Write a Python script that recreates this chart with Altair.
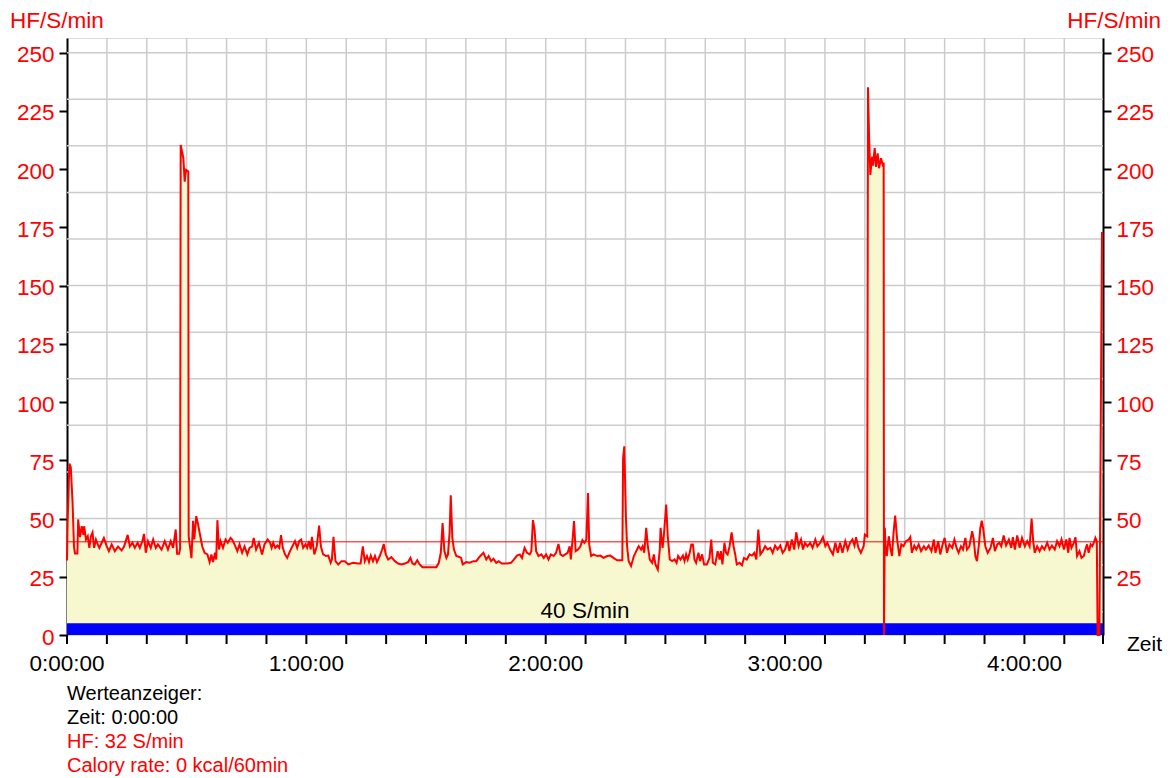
import altair as alt
import pandas as pd

# ---- data (minutes since start, HF in S/min) ----
minutes = [
    0.0, 0.15, 0.6, 0.95, 1.4, 1.75, 2.0, 2.6, 2.8, 3.25, 3.7, 4.1, 4.3, 4.75, 5.2, 5.6, 6.0, 6.4, 6.8,
    7.25, 7.7, 8.1, 8.7, 9.25, 9.9, 10.5, 11.2, 12.0, 12.8, 13.7, 14.3, 15.2, 15.75, 16.4, 17.0, 17.7,
    18.25, 18.9, 19.3, 19.75, 20.3, 21.0, 21.6, 22.25, 22.8, 23.7, 24.5, 25.3, 26.0, 26.6, 27.25, 27.6,
    28.1, 28.35, 28.5, 29.17, 29.5, 29.84, 30.4, 30.5, 31.2, 31.6, 31.9, 32.4, 32.8, 33.25, 33.9, 34.5,
    35.2, 35.75, 36.2, 36.6, 37.1, 37.4, 37.7, 38.1, 38.5, 39.1, 39.75, 40.3, 41.0, 41.4, 42.0, 42.7,
    43.25, 43.9, 44.5, 45.2, 45.75, 46.4, 46.8, 47.4, 48.1, 48.9, 49.5, 50.3, 50.9, 51.3, 51.7, 52.2,
    52.7, 53.2, 53.65, 54.1, 54.65, 55.2, 55.9, 56.6, 57.15, 57.7, 58.2, 58.7, 59.2, 59.8, 60.2, 60.65,
    61.1, 61.4, 62.0, 62.6, 63.2, 63.65, 64.2, 64.9, 65.5, 66.1, 66.4, 66.8, 67.3, 68.0, 68.8, 69.65,
    70.5, 71.7, 73.0, 73.6, 74.15, 74.65, 75.2, 75.7, 76.15, 76.7, 77.2, 77.7, 78.4, 79.0, 79.4, 79.9,
    80.5, 81.3, 82.2, 83.0, 83.8, 84.7, 85.5, 86.1, 86.6, 87.15, 87.8, 88.4, 89.1, 90.1, 91.3, 92.6,
    93.2, 93.7, 94.15, 94.6, 95.1, 95.5, 95.9, 96.2, 96.6, 97.0, 97.6, 98.2, 98.8, 99.2, 100.1, 100.9,
    101.9, 102.6, 103.2, 103.6, 104.4, 105.1, 105.7, 106.3, 106.9, 107.6, 108.2, 109.0, 110.3, 111.3,
    112.0, 112.8, 113.5, 114.05, 114.7, 115.3, 116.0, 116.4, 116.8, 117.2, 117.6, 118.2, 118.9, 119.5,
    120.1, 120.7, 121.3, 122.0, 122.6, 123.2, 123.7, 124.3, 124.9, 125.5, 126.0, 126.3, 126.8, 127.1,
    127.5, 128.1, 128.7, 129.2, 129.7, 130.2, 130.6, 130.9, 131.4, 132.0, 132.9, 133.7, 134.5, 135.4,
    136.2, 137.0, 137.9, 138.7, 139.2, 139.4, 139.7, 140.1, 140.4, 140.8, 141.4, 142.1, 142.7, 143.3,
    143.9, 144.3, 144.7, 145.2, 145.6, 146.1, 146.7, 147.1, 147.5, 148.1, 148.6, 148.8, 149.3, 149.6,
    149.8, 150.2, 150.6, 151.1, 151.7, 152.3, 152.8, 153.2, 153.8, 154.4, 154.8, 155.2, 155.6, 156.1,
    156.5, 156.9, 157.3, 157.7, 158.3, 158.7, 159.2, 159.7, 160.4, 161.05, 161.5, 161.9, 162.5, 163.1,
    163.6, 163.9, 164.3, 164.8, 165.2, 165.6, 166.1, 166.6, 167.1, 167.5, 167.9, 168.6, 169.2, 169.7,
    170.4, 171.1, 171.7, 172.3, 172.8, 173.3, 173.8, 174.4, 175.0, 175.6, 176.3, 176.9, 177.5, 178.1,
    178.8, 179.4, 180.0, 180.6, 181.1, 181.7, 182.3, 182.8, 183.4, 184.0, 184.5, 185.0, 185.6, 186.3,
    186.9, 187.6, 188.1, 188.8, 189.5, 190.1, 190.6, 191.3, 192.0, 192.6, 193.2, 193.8, 194.4, 195.1,
    195.7, 196.3, 196.9, 197.4, 197.8, 198.4, 199.0, 199.7, 200.0, 200.6, 200.79, 201.04, 201.38, 201.8,
    202.05, 202.47, 202.8, 203.22, 203.55, 204.05, 204.47, 204.72, 204.8, 205.0, 205.2, 205.5, 206.0,
    206.4, 206.8, 207.2, 207.6, 208.1, 208.65, 209.15, 209.7, 210.3, 211.0, 211.4, 211.8, 212.4, 212.9,
    213.5, 214.1, 214.8, 215.3, 216.0, 216.7, 217.3, 217.7, 218.4, 218.9, 219.5, 220.0, 220.6, 221.2,
    221.9, 222.45, 223.0, 223.5, 224.1, 224.6, 225.2, 225.6, 226.2, 226.9, 227.3, 227.7, 228.1, 228.55,
    228.95, 229.3, 229.7, 230.2, 230.8, 231.5, 232.1, 232.6, 233.2, 233.7, 234.2, 234.8, 235.4, 236.1,
    236.7, 237.1, 237.6, 238.2, 238.8, 239.4, 240.1, 240.7, 241.3, 241.8, 242.2, 242.6, 243.2, 243.8,
    244.4, 245.0, 245.7, 246.3, 246.9, 247.6, 248.2, 248.8, 249.3, 249.9, 250.5, 251.0, 251.3, 251.8,
    252.4, 252.8, 253.2, 253.8, 254.3, 254.9, 255.3, 255.7, 256.1, 256.6, 257.0, 257.4, 257.8, 258.15,
    258.35, 258.8, 259.45,
]
hf = [
    32, 48, 73.6, 72, 56.7, 38, 35, 35, 49.6, 42, 46.7, 43, 46.7, 41, 42.4, 37.4, 42.4, 44, 37.4,
    41, 38.9, 37.4, 39.6, 41.7, 38.4, 36, 38.9, 36, 38, 36.3, 38, 43, 38, 39.6, 37.4, 39.6,
    37.4, 40.3, 43.4, 35.3, 40.3, 37.4, 41, 37.4, 38.9, 36.7, 40.3, 36.7, 40.3, 37.4, 45.3, 34.9,
    34.9, 37, 210.4, 204.7, 194.6, 199.7, 199, 42.4, 33, 49, 41, 51, 48, 43.9, 38, 35.3,
    34.6, 31.3, 34.6, 31.3, 35.3, 32.4, 49.3, 36.7, 40.3, 37.4, 41, 39.6, 41.7, 41, 38.9, 36,
    38.9, 35.3, 38, 34.6, 37.4, 38, 41.7, 36.7, 39.6, 34.6, 38.9, 41, 39.6, 37.4, 39.6, 37.4,
    38.4, 37.4, 42.9, 37.4, 34.6, 33.1, 36, 38.4, 40.3, 37.4, 40.3, 41, 37.4, 38.9, 37.4, 40.3,
    36.7, 42.1, 34.6, 38, 47, 38, 34.6, 33.9, 34.1, 31, 32.4, 42.1, 31.7, 30.3, 31.7, 31.7,
    30.3, 31, 30.7, 30.7, 38, 31.7, 33.9, 31.3, 34.1, 31.7, 33.9, 31.3, 33.9, 36.7, 39.1, 34.6,
    32.4, 33.4, 31.7, 30.7, 30.3, 30.7, 31.3, 33.1, 30.7, 30.3, 32.1, 30.3, 29.1, 29.1, 29.1, 29.1,
    31, 35.3, 48.1, 36, 33.1, 34.6, 43.9, 60, 41.7, 36.7, 33.9, 33.6, 33.1, 30.3, 31.3, 31,
    31.7, 31.7, 33.1, 33.9, 35.3, 32.4, 33.9, 31.7, 32.7, 31, 31.7, 30.7, 30.7, 31,
    32.4, 34.1, 34.6, 33.1, 37.4, 35.3, 34.6, 36, 49.3, 45.3, 36, 33.9, 34.6, 33.1,
    34.6, 32.4, 34.6, 33.9, 35.3, 39.1, 34.6, 33.9, 34.6, 35.3, 38.1, 32.4, 42.4, 48.9,
    36, 36.7, 38.1, 40.7, 39.6, 41, 61, 38.9, 33.9, 34.6, 33.9, 34.1, 33.1, 33.9,
    34.1, 33.1, 32.1, 32.1, 32.1, 76, 81, 51, 38.1, 31.7, 29.6, 33.9, 36, 38.1,
    36.7, 38.1, 35.3, 46, 38.1, 32.4, 31, 34.6, 30.3, 28.1, 36.7, 46, 37.4, 42.4,
    46.7, 56, 42.4, 32.4, 31.7, 32.4, 31, 33.9, 32.4, 34.1, 31.7, 34.6, 32.4, 35.3,
    38.9, 38.9, 32.4, 31, 35.3, 31.7, 34.6, 30.3, 30.3, 33.1, 41, 31, 30.3, 36,
    32.4, 36, 30.3, 39.6, 35.3, 34.6, 38.1, 44.1, 38.1, 34.6, 30.3, 31, 29.9, 33.1,
    32.4, 34.6, 34.1, 35.3, 32.4, 45.3, 34.6, 36, 38.1, 36.7, 37.4, 35.3, 38.4, 36.7,
    38.4, 35.3, 36.7, 40.3, 36, 41, 36.7, 44.1, 38.1, 41, 36.7, 39.6, 38.1, 39.6,
    37.4, 41, 38.1, 39.6, 42, 38.1, 39.6, 36.7, 34.6, 39.6, 35.3, 39.6, 35.3, 40.3,
    36.7, 39.6, 41, 38.4, 42, 37.4, 35.3, 38.1, 43.1, 42.4, 235.2, 215.5, 197.5, 205.4,
    201.5, 209, 201, 206.8, 200.4, 204.7, 202, 202.8, 0, 46, 38.1, 33.9, 42.4,
    37.4, 33.9, 43.9, 51.3, 41, 33.9, 38.9, 38.1, 40.3, 41, 42.1, 35.3, 38.4, 36.7,
    38.9, 36, 38.1, 36.7, 38.4, 36, 41, 35.3, 40.3, 34.6, 38.9, 41.7, 35.3, 38.9,
    37.4, 41, 37.4, 35.3, 38.1, 36.7, 41.7, 36.7, 38.1, 44.6, 41, 33.9, 31.7, 38.1,
    46, 49.1, 45.3, 38.1, 35.3, 37.4, 41.7, 36, 38.9, 39.6, 38.1, 42.7, 38.4, 41,
    37.4, 42, 36.7, 42.7, 37.4, 41.7, 38.1, 40.3, 38.1, 50, 40.3, 35.3, 38.1, 36,
    38.1, 36.7, 39.6, 36.7, 38.4, 36.7, 40.3, 38.1, 41, 36.7, 41, 35.3, 41.7, 37.4,
    39.6, 42, 33.9, 36, 33.1, 33.9, 36.7, 38.9, 35.3, 38.9, 38.1, 39.6, 41.7, 40.3,
    0, 0, 173,
]

y_ticks_left = list(range(0, 251, 25))
y_ticks_right = list(range(25, 251, 25))
x_ticks = list(range(0, 251, 10)) + [259.7]
hour_ticks = [0, 60, 120, 180, 240]
hour_labels = ["0:00:00", "1:00:00", "2:00:00", "3:00:00", "4:00:00"]
x_grid = list(range(10, 251, 10))
y_grid = list(range(10, 251, 20))
threshold = [40]
band_low, band_high = 0, 5
x_max = 259.7
y_max = 256.3

info_black = ["Werteanzeiger:", "Zeit: 0:00:00"]
info_red = ["HF: 32 S/min", "Calory rate: 0 kcal/60min"]

FONT = "Liberation Sans"
FS = 22.5
W, H = 1036, 597

df = pd.DataFrame({"m": minutes, "hf": hf})
xs = alt.Scale(domain=[0, x_max], nice=False, zero=False)
ys = alt.Scale(domain=[0, y_max], nice=False, zero=False)

yl_axis = alt.Axis(orient="left", values=y_ticks_left, title=None, labelColor="red", labelFontSize=FS,
                   labelFont=FONT, labelPadding=5, tickSize=8, tickWidth=2, tickColor="black",
                   domainColor="black", domainWidth=2, grid=False, labelOffset=2)
yr_axis = alt.Axis(orient="right", values=y_ticks_right, title=None, labelColor="red", labelFontSize=FS,
                   labelFont=FONT, labelPadding=5, tickSize=8, tickWidth=2, tickColor="black",
                   domainColor="black", domainWidth=2, grid=False, labelOffset=2)

grid_v = alt.Chart(pd.DataFrame({"m": x_grid})).mark_rule(color="#cccccc", strokeWidth=1.5).encode(
    x=alt.X("m:Q", scale=xs, axis=None))
grid_h = alt.Chart(pd.DataFrame({"v": y_grid})).mark_rule(color="#cccccc", strokeWidth=1.5).encode(
    y=alt.Y("v:Q", scale=ys, axis=yl_axis))

area = alt.Chart(df).mark_area(color="#f8f8d0", opacity=1, interpolate="linear").encode(
    x=alt.X("m:Q", scale=xs, axis=None),
    y=alt.Y("hf:Q", scale=ys, axis=None))

rule40 = alt.Chart(pd.DataFrame({"v": threshold})).mark_rule(color="#ff0000", strokeWidth=1).encode(
    y=alt.Y("v:Q", scale=ys, axis=yr_axis))

band = alt.Chart(pd.DataFrame({"x0": [0], "x1": [x_max], "y0": [band_low], "y1": [band_high]})).mark_rect(
    color="#0000ff").encode(
    x=alt.X("x0:Q", scale=xs, axis=None), x2="x1:Q",
    y=alt.Y("y0:Q", scale=ys, axis=None), y2="y1:Q")

line = alt.Chart(df).mark_line(color="#ff0000", strokeWidth=2, interpolate="linear").encode(
    x=alt.X("m:Q", scale=xs, axis=None),
    y=alt.Y("hf:Q", scale=ys, axis=None))

# time axis: ticks every 10 minutes, labels on the hours
x_tick_marks = alt.Chart(pd.DataFrame({"m": x_ticks})).mark_rule(color="black", strokeWidth=2).encode(
    x=alt.X("m:Q", scale=xs, axis=None), y=alt.value(H), y2=alt.value(H + 9))

hours = alt.Chart(pd.DataFrame({"m": hour_ticks, "lab": hour_labels})).mark_text(
    color="black", fontSize=FS, font=FONT, align="center", baseline="alphabetic").encode(
    x=alt.X("m:Q", scale=xs, axis=None), y=alt.value(H + 36), text="lab:N")

one = alt.Data(values=[{}])


def label(text, x, y, color="black", size=FS, align="left"):
    return alt.Chart(one).mark_text(text=text, color=color, fontSize=size, font=FONT, align=align,
                                    baseline="alphabetic").encode(x=alt.value(x), y=alt.value(y))


texts = [
    label("HF/S/min", -57, -10.5, "red"),
    label("HF/S/min", W + 58, -10.5, "red", align="right"),
    label("Zeit", 1060, 612.5, "black", 21),
    label(f"{threshold[0]} S/min", W / 2, 580, "black", FS, "center"),
    label(info_black[0], 0, 662, "black", 20),
    label(info_black[1], 0, 686, "black", 20),
    label(info_red[0], 0, 710, "red", 20),
    label(info_red[1], 0, 734, "red", 20),
]

chart = alt.layer(grid_v, grid_h, area, rule40, band, line, x_tick_marks, hours, *texts).properties(
    width=W, height=H,
    autosize=alt.AutoSizeParams(type="none"),
    padding={"left": 59, "top": 30, "right": 61, "bottom": 143},
).configure_view(stroke="black", strokeWidth=2).configure(background="white")

chart.save("out.html", embed_options={"renderer": "svg", "actions": False})
